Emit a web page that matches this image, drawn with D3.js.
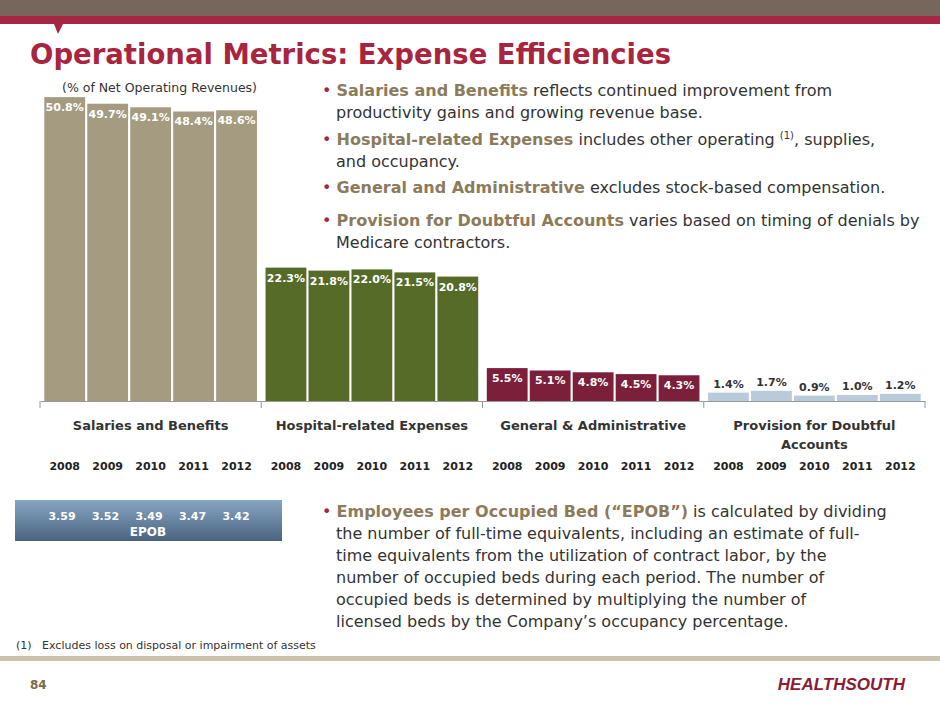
<!DOCTYPE html>
<html><head><meta charset="utf-8">
<script src="https://cdn.jsdelivr.net/npm/d3@7"></script>
<style>body{margin:0;background:#fff}svg{display:block;font-family:"DejaVu Sans",sans-serif}</style>
</head><body><div id="content"></div>
<script>
const categories = ["Salaries and Benefits", "Hospital-related Expenses", "General & Administrative", "Provision for Doubtful Accounts"];
const years = ["2008", "2009", "2010", "2011", "2012"];
const salaries = [50.8, 49.7, 49.1, 48.4, 48.6];
const hospital = [22.3, 21.8, 22.0, 21.5, 20.8];
const general = [5.5, 5.1, 4.8, 4.5, 4.3];
const provision = [1.4, 1.7, 0.9, 1.0, 1.2];
const epob = [3.59, 3.52, 3.49, 3.47, 3.42];

const series = [salaries, hospital, general, provision];
const colors = ["#a49b80", "#556b27", "#7c1f3b", "#b9cadb"];

const svg = d3.select("#content").append("svg").attr("width", 940).attr("height", 705);

// header
svg.append("rect").attr("width", 940).attr("height", 16).style("fill", "#76665c");
svg.append("rect").attr("y", 16).attr("width", 940).attr("height", 8).style("fill", "#a52744");
svg.append("path").attr("d", "M54,24 L63,24 L58,34 Z").style("fill", "#a52744");
svg.append("text").attr("x", 30).attr("y", 64).text("Operational Metrics: Expense Efficiencies")
  .style("fill", "#a8243f").style("font-size", "27.5px").style("font-weight", "bold");
svg.append("text").attr("x", 62).attr("y", 92).text("(% of Net Operating Revenues)")
  .style("fill", "#333").style("font-size", "12.5px");

const x0 = d3.scaleBand().domain(categories).range([40, 925]);
const x1 = d3.scaleBand().domain(years).range([0, x0.bandwidth()]).paddingInner(0.05).paddingOuter(0.1);
const y = d3.scaleLinear().domain([0, 54]).range([401, 78]);

const groups = svg.selectAll("g.grp").data(categories).enter().append("g")
  .attr("class", "grp").attr("transform", d => `translate(${x0(d)},0)`);

groups.each(function(c, gi) {
  const g = d3.select(this);
  const vals = series[gi].map((v, i) => ({year: years[i], v}));
  g.selectAll("rect").data(vals).enter().append("rect")
    .attr("x", d => x1(d.year)).attr("width", x1.bandwidth())
    .attr("y", d => y(d.v)).attr("height", d => y(0) - y(d.v))
    .style("fill", colors[gi]);
  g.selectAll("text.val").data(vals).enter().append("text").attr("class", "val")
    .attr("x", d => x1(d.year) + x1.bandwidth() / 2)
    .attr("y", d => gi === 3 ? y(d.v) - 5 : y(d.v) + 14)
    .attr("text-anchor", "middle").text(d => d.v.toFixed(1) + "%")
    .style("fill", gi === 3 ? "#333" : "#fff").style("font-size", "11px").style("font-weight", "bold");
  g.selectAll("text.yr").data(years).enter().append("text").attr("class", "yr")
    .attr("x", d => x1(d) + x1.bandwidth() / 2).attr("y", 470).attr("text-anchor", "middle")
    .text(d => d).style("fill", "#222").style("font-size", "11px").style("font-weight", "bold");
});

const axis = svg.append("g").attr("transform", "translate(0,401)")
  .call(d3.axisBottom(x0).tickSize(0).tickFormat(""));
axis.select(".domain").style("stroke", "#999");
[40, ...categories.map(c => x0(c) + x0.bandwidth())].forEach(px =>
  svg.append("line").attr("x1", px).attr("x2", px).attr("y1", 401).attr("y2", 408).style("stroke", "#999"));

const catLabels = [["Salaries and Benefits"], ["Hospital-related Expenses"], ["General & Administrative"], ["Provision for Doubtful", "Accounts"]];
categories.forEach((c, i) => {
  catLabels[i].forEach((l, j) => svg.append("text")
    .attr("x", x0(c) + x0.bandwidth() / 2).attr("y", 430 + j * 19).attr("text-anchor", "middle")
    .text(l).style("fill", "#333").style("font-size", "13px").style("font-weight", "bold"));
});

// EPOB box
const grad = svg.append("defs").append("linearGradient").attr("id", "eg").attr("x1", 0).attr("x2", 0).attr("y1", 0).attr("y2", 1);
grad.append("stop").attr("offset", 0).attr("stop-color", "#86a5c2");
grad.append("stop").attr("offset", 1).attr("stop-color", "#4b6480");
svg.append("rect").attr("x", 15).attr("y", 500).attr("width", 267).attr("height", 41).style("fill", "url(#eg)");
const ex = d3.scalePoint().domain(years).range([62, 236]);
svg.selectAll("text.epob").data(epob).enter().append("text").attr("class", "epob")
  .attr("x", (d, i) => ex(years[i])).attr("y", 520).attr("text-anchor", "middle")
  .text(d => d.toFixed(2)).style("fill", "#fff").style("font-size", "11px").style("font-weight", "bold");
svg.append("text").attr("x", 148).attr("y", 536).attr("text-anchor", "middle").text("EPOB")
  .style("fill", "#fff").style("font-size", "12px").style("font-weight", "bold");

// bullets
function para(x, y0, lines) {
  lines.forEach((l, i) => {
    const t = svg.append("text").attr("x", i === 0 ? x : x + 14).attr("y", y0 + i * 22).style("font-size", "16px").style("fill", "#333");
    l.forEach(seg => {
      const ts = t.append("tspan").text(seg[0]);
      if (seg[1] === "b") ts.style("fill", "#8c7b5b").style("font-weight", "bold");
      if (seg[1] === "bul") ts.style("fill", "#a8243f");
      if (seg[1] === "sup") ts.attr("dy", -6).style("font-size", "10px");
      if (seg[1] === "after") ts.attr("dy", 6);
    });
  });
}
para(322, 96, [[["• ", "bul"], ["Salaries and Benefits", "b"], [" reflects continued improvement from"]], [["productivity gains and growing revenue base."]]]);
para(322, 145, [[["• ", "bul"], ["Hospital-related Expenses", "b"], [" includes other operating "], ["(1)", "sup"], [", supplies,", "after"]], [["and occupancy."]]]);
para(322, 193, [[["• ", "bul"], ["General and Administrative", "b"], [" excludes stock-based compensation."]]]);
para(322, 226, [[["• ", "bul"], ["Provision for Doubtful Accounts", "b"], [" varies based on timing of denials by"]], [["Medicare contractors."]]]);
para(322, 517, [
  [["• ", "bul"], ["Employees per Occupied Bed (“EPOB”)", "b"], [" is calculated by dividing"]],
  [["the number of full-time equivalents, including an estimate of full-"]],
  [["time equivalents from the utilization of contract labor, by the"]],
  [["number of occupied beds during each period. The number of"]],
  [["occupied beds is determined by multiplying the number of"]],
  [["licensed beds by the Company’s occupancy percentage."]]
]);

// footer
svg.append("text").attr("x", 16).attr("y", 649).text("(1)   Excludes loss on disposal or impairment of assets")
  .attr("xml:space", "preserve").style("white-space", "pre")
  .style("fill", "#333").style("font-size", "11px");
svg.append("rect").attr("y", 656).attr("width", 940).attr("height", 5).style("fill", "#c9c2ad");
svg.append("text").attr("x", 30).attr("y", 689).text("84").style("fill", "#7a6a48").style("font-size", "12px").style("font-weight", "bold");
svg.append("text").attr("x", 905).attr("y", 690).attr("text-anchor", "end").text("HEALTHSOUTH")
  .style("fill", "#8e1a33").style("font-size", "17px").style("font-weight", "bold").style("font-style", "italic")
  .style("font-family", "Liberation Sans");
</script></body></html>
